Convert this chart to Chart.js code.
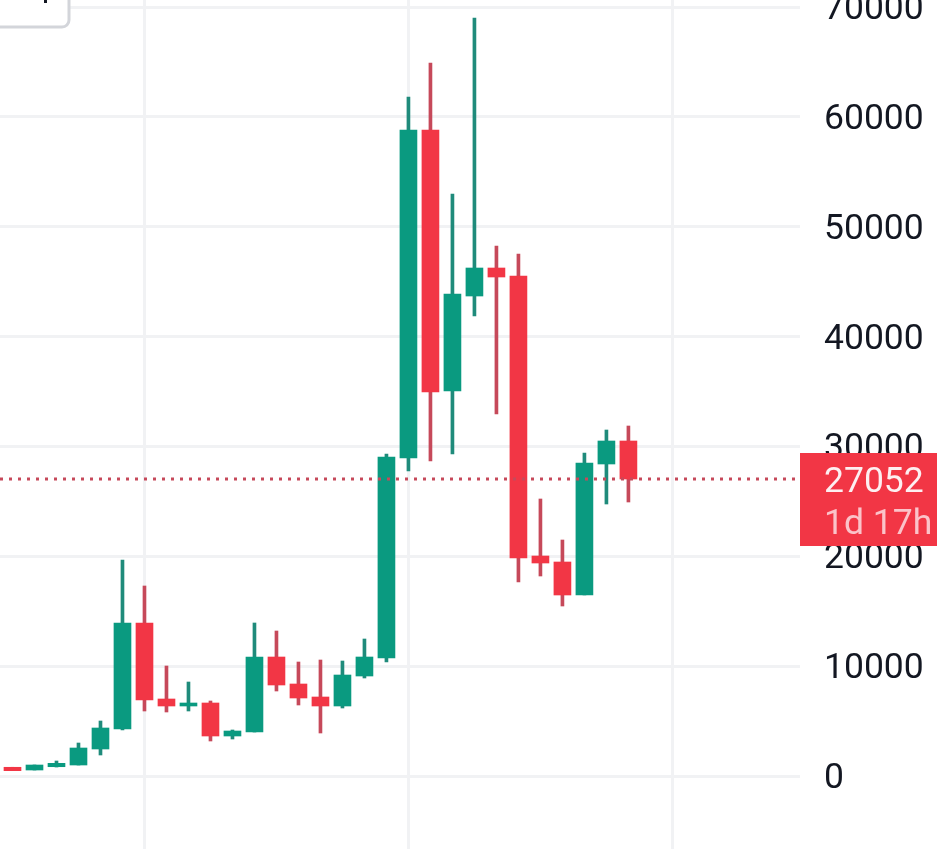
<!DOCTYPE html>
<html>
<head>
<meta charset="utf-8">
<style>
  html, body { margin: 0; padding: 0; background: #fff; overflow: hidden; }
  canvas { display: block; }
</style>
<script src="https://cdn.jsdelivr.net/npm/chart.js@4"></script>
</head>
<body>
<canvas id="candleChart" width="937" height="849"></canvas>
<script>
// quarterly candles
const quarters = ['2016 Q3','2016 Q4','2017 Q1','2017 Q2','2017 Q3','2017 Q4','2018 Q1','2018 Q2','2018 Q3','2018 Q4',
                  '2019 Q1','2019 Q2','2019 Q3','2019 Q4','2020 Q1','2020 Q2','2020 Q3','2020 Q4','2021 Q1','2021 Q2',
                  '2021 Q3','2021 Q4','2022 Q1','2022 Q2','2022 Q3','2022 Q4','2023 Q1','2023 Q2','2023 Q3'];
const opens  = [820, 573, 873, 1028, 2484, 4304, 13950, 7034, 6397, 6670, 3667, 4031, 10855, 8399, 7216, 6397, 9126, 10764, 28963, 58808, 35059, 43703, 46251, 45523, 20045, 19500, 16497, 28417, 30510];
const highs  = [820, 1028, 1392, 3030, 5032, 19680, 17316, 10036, 8580, 6852, 4213, 13950, 13221, 10400, 10582, 10491, 12493, 29327, 61810, 64906, 52984, 68999, 48253, 47525, 25232, 21501, 29418, 31510, 31874];
const lows   = [510, 573, 846, 1028, 1938, 4213, 5942, 5851, 5942, 3212, 3394, 4031, 7762, 6488, 3940, 6215, 8945, 10400, 27780, 28690, 29327, 41883, 32966, 17680, 18226, 15496, 16497, 24777, 24959];
const closes = [510, 1028, 1183, 2575, 4395, 13950, 6943, 6397, 6670, 3667, 4122, 10855, 8308, 7125, 6397, 9217, 10855, 29054, 58808, 34968, 43885, 46251, 45432, 19864, 19408, 16497, 28508, 30510, 27052];

const yTickValues = [0, 10000, 20000, 30000, 40000, 50000, 60000, 70000];
const yearStartIndexes = [6, 18, 30]; // 2018, 2021, 2024
const lastPrice = 27052;
const countdown = '1d 17h';

const GREEN = '#0a9a80', GREEN_WICK = '#1f8b7b';
const RED = '#f23645', RED_WICK = '#c6495a';
const GRID = '#f1f2f4';
const FONT = 'Roboto';

const xMin = -0.568, xMax = 35.8;

function isUp(i) { return closes[i] >= opens[i]; }

// price tag on the axis and the cut off legend box at the top left
const overlayPlugin = {
    id: 'overlay',
    afterDraw(chart) {
        const c = chart.ctx;
        const yScale = chart.scales.y;
        const top = yScale.getPixelForValue(lastPrice) - 26;
        c.save();
        c.fillStyle = RED;
        c.fillRect(800, top, 137, 93);
        c.font = '35.5px ' + FONT;
        c.textAlign = 'left';
        c.textBaseline = 'middle';
        c.fillStyle = '#fdeff1';
        c.fillText(String(lastPrice), 824, top + 30);
        c.fillStyle = '#fbc3c9';
        c.fillText(countdown, 824, top + 72);

        c.beginPath();
        c.roundRect(-20, -20, 89, 47, 7);
        c.fillStyle = '#fff';
        c.fill();
        c.lineWidth = 3;
        c.strokeStyle = '#d3d5da';
        c.stroke();
        c.fillStyle = '#131722';
        c.fillRect(44, 0, 3, 3);
        c.restore();
    }
};

new Chart(document.getElementById('candleChart').getContext('2d'), {
    data: {
        datasets: [{
            type: 'line',
            order: 0,
            data: [{ x: xMin, y: lastPrice }, { x: xMax, y: lastPrice }],
            borderColor: RED_WICK,
            borderWidth: 3,
            borderDash: [3, 6],
            pointRadius: 0
        }, {
            type: 'bar',
            order: 1,
            label: 'Body',
            data: quarters.map((q, i) => ({ x: i, y: [opens[i], closes[i]] })),
            backgroundColor: ctx => isUp(ctx.dataIndex) ? GREEN : RED,
            barThickness: 17,
            grouped: false
        }, {
            type: 'bar',
            order: 2,
            label: 'Wick',
            data: quarters.map((q, i) => ({ x: i, y: [lows[i], highs[i]] })),
            backgroundColor: ctx => isUp(ctx.dataIndex) ? GREEN_WICK : RED_WICK,
            barThickness: 3,
            grouped: false
        }]
    },
    options: {
        responsive: false,
        animation: false,
        layout: { padding: 0 },
        plugins: { legend: { display: false }, tooltip: { enabled: false } },
        scales: {
            x: {
                type: 'linear',
                min: xMin,
                max: xMax,
                offset: false,
                border: { display: false },
                grid: { color: GRID, lineWidth: 3, offset: false, drawTicks: false },
                ticks: { display: false },
                afterBuildTicks: axis => { axis.ticks = yearStartIndexes.map(v => ({ value: v })); },
                afterFit: axis => { axis.height = 0; axis.paddingLeft = 0; axis.paddingRight = 0; }
            },
            y: {
                position: 'right',
                min: -6615,
                max: 70637,
                border: { display: false },
                grid: { color: GRID, lineWidth: 3, drawTicks: false },
                ticks: {
                    color: '#131722',
                    font: { family: FONT, size: 35.5 },
                    padding: 24,
                    labelOffset: 3,
                    crossAlign: 'near',
                    callback: v => String(v)
                },
                afterBuildTicks: axis => { axis.ticks = yTickValues.map(v => ({ value: v })); },
                afterFit: axis => { axis.width = 137; axis.paddingTop = 0; axis.paddingBottom = 0; }
            }
        }
    },
    plugins: [overlayPlugin]
});
</script>
</body>
</html>
